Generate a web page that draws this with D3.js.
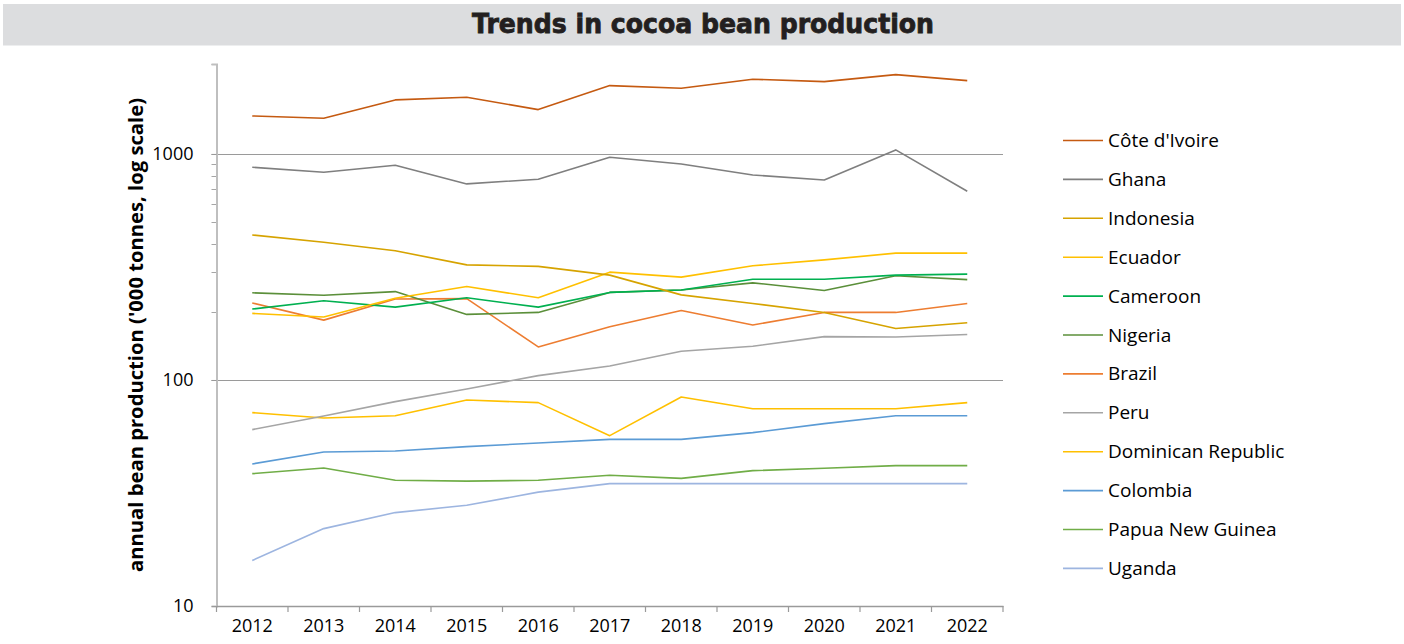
<!DOCTYPE html>
<html>
<head>
<meta charset="utf-8">
<script src="https://cdn.jsdelivr.net/npm/d3@7"></script>
<style>
  body { margin: 0; background: #fff; }
  text { font-family: "Open Sans", sans-serif; fill: #000; }
</style>
</head>
<body>
<div id="chart"></div>
<script>
// years on the x axis
const years = [2012, 2013, 2014, 2015, 2016, 2017, 2018, 2019, 2020, 2021, 2022];

// countries, in legend order
const countries = ["Côte d'Ivoire", "Ghana", "Indonesia", "Ecuador", "Cameroon", "Nigeria",
    "Brazil", "Peru", "Dominican Republic", "Colombia", "Papua New Guinea", "Uganda"];

// production, '000 tonnes
const coteDIvoire = [1473, 1439, 1734, 1782, 1571, 2006, 1953, 2141, 2089, 2244, 2110];
const ghana = [873, 830, 891, 737, 773, 967, 903, 807, 767, 1042, 684];
const indonesia = [438, 407, 373, 323, 318, 291, 238, 218, 199, 169, 179];
const ecuador = [197, 190, 230, 259, 231, 300, 285, 320, 340, 364, 364];
const cameroon = [206, 224, 210, 231, 210, 244, 250, 279, 279, 291, 294];
const nigeria = [243, 237, 246, 195, 199, 244, 250, 269, 249, 289, 278];
const brazil = [219, 184, 228, 229, 140, 172, 203, 175, 199, 199, 218];
const peru = [60.3, 69.3, 80.2, 91.2, 104.5, 115.3, 134, 141, 155.5, 155, 159];
const dominicanRepublic = [71.7, 67.9, 69.5, 81.5, 79.4, 56.7, 84.1, 74.6, 74.6, 74.6, 79.4];
const colombia = [42.5, 48.0, 48.5, 50.7, 52.6, 54.6, 54.6, 58.5, 64.1, 69.5, 69.5];
const papuaNewGuinea = [38.5, 40.8, 36.0, 35.7, 36.0, 37.9, 36.7, 39.7, 40.7, 41.8, 41.8];
const uganda = [15.9, 22.0, 25.9, 27.9, 31.9, 34.8, 34.8, 34.8, 34.8, 34.8, 34.8];

// axis ticks
const majorTicks = [10, 100, 1000];
const minorTicks = [200, 300, 400, 500, 600, 700, 800, 900, 2500];

const colors = ["#C55A11", "#7F7F7F", "#D6A300", "#FFC000", "#00B050", "#5B8F3A",
    "#ED7D31", "#A5A5A5", "#FFC000", "#5B9BD5", "#70AD47", "#9DB5E0"];

const seriesValues = [coteDIvoire, ghana, indonesia, ecuador, cameroon, nigeria,
    brazil, peru, dominicanRepublic, colombia, papuaNewGuinea, uganda];

const series = countries.map((c, i) => ({
    name: c,
    color: colors[i],
    values: years.map((y, j) => ({year: y, value: seriesValues[i][j]}))
}));

const width = 1404, height = 644;
const margin = {top: 64, right: 401, bottom: 38, left: 216.5};

const svg = d3.select("#chart").append("svg")
    .attr("width", width)
    .attr("height", height);

// title bar
svg.append("rect")
    .attr("x", 3).attr("y", 4)
    .attr("width", width - 6).attr("height", 41.5)
    .attr("fill", "#DCDDDF");

svg.append("text")
    .attr("x", 703).attr("y", 33)
    .attr("text-anchor", "middle")
    .attr("textLength", 462)
    .attr("lengthAdjust", "spacingAndGlyphs")
    .style("font-family", "'DejaVu Sans', sans-serif")
    .style("font-weight", 900)
    .style("font-size", "26px")
    .style("fill", "#231F20")
    .style("stroke", "#231F20")
    .style("stroke-width", 0.8)
    .text("Trends in cocoa bean production");

// scales
let x = d3.scaleBand()
    .domain(years)
    .range([margin.left, width - margin.right])
    .padding(0);

let y = d3.scaleLog()
    .domain([10, 2500])
    .range([height - margin.bottom, margin.top]);

let cx = d => x(d) + x.bandwidth() / 2;

// gridlines
svg.append("g")
    .selectAll("line")
    .data([100, 1000])
    .enter().append("line")
    .attr("x1", margin.left - 5)
    .attr("x2", width - margin.right)
    .attr("y1", d => Math.round(y(d)) + 0.5)
    .attr("y2", d => Math.round(y(d)) + 0.5)
    .attr("stroke", "#9A9A9A")
    .attr("stroke-width", 1);

// minor ticks on y axis
svg.append("g")
    .selectAll("line")
    .data(minorTicks)
    .enter().append("line")
    .attr("x1", margin.left - 5)
    .attr("x2", margin.left)
    .attr("y1", d => Math.round(y(d)) + 0.5)
    .attr("y2", d => Math.round(y(d)) + 0.5)
    .attr("stroke", "#A6A6A6");

// y axis
let yAxis = d3.axisLeft(y)
    .tickValues(majorTicks)
    .tickFormat(d3.format("d"))
    .tickSize(5)
    .tickPadding(18);

let yG = svg.append("g")
    .attr("transform", `translate(${margin.left}, 0)`)
    .call(yAxis);
yG.select(".domain").attr("stroke", "#BFBFBF").attr("stroke-width", 2);
yG.selectAll(".tick line").attr("stroke", "#9A9A9A");
yG.selectAll(".tick text")
    .style("font-family", "'Open Sans', sans-serif")
    .style("font-size", "18px")
    .attr("fill", "#000");

// x axis
let xAxis = d3.axisBottom(x)
    .tickSize(0)
    .tickPadding(13);

let xG = svg.append("g")
    .attr("transform", `translate(0, ${height - margin.bottom})`)
    .call(xAxis);
xG.select(".domain").attr("stroke", "#9A9A9A").attr("stroke-width", 1.5);
xG.selectAll(".tick text")
    .style("font-family", "'Open Sans', sans-serif")
    .style("font-size", "18px")
    .attr("fill", "#000");

// category boundary ticks
let edges = years.map(d => x(d)).concat([x.range()[1]]);
svg.append("g")
    .selectAll("line")
    .data(edges)
    .enter().append("line")
    .attr("x1", d => d)
    .attr("x2", d => d)
    .attr("y1", height - margin.bottom)
    .attr("y2", height - margin.bottom + 6)
    .attr("stroke", "#9A9A9A")
    .attr("stroke-width", 1.2);

// y axis title
svg.append("text")
    .attr("transform", `translate(143, ${(margin.top + height - margin.bottom) / 2}) rotate(-90)`)
    .attr("text-anchor", "middle")
    .attr("textLength", 474)
    .attr("lengthAdjust", "spacingAndGlyphs")
    .style("font-family", "'Open Sans', sans-serif")
    .style("font-weight", 700)
    .style("font-size", "20px")
    .text("annual bean production ('000 tonnes, log scale)");

// lines
let line = d3.line()
    .x(d => cx(d.year))
    .y(d => y(d.value));

svg.append("g")
    .selectAll("path")
    .data(series.slice().reverse())
    .enter().append("path")
    .attr("d", d => line(d.values))
    .attr("fill", "none")
    .attr("stroke", d => d.color)
    .attr("stroke-width", 1.6)
    .attr("stroke-linejoin", "round");

// legend
let legend = svg.append("g")
    .attr("transform", "translate(1063, 140.5)");

let items = legend.selectAll("g")
    .data(series)
    .enter().append("g")
    .attr("transform", (d, i) => `translate(0, ${i * 38.9})`);

items.append("line")
    .attr("x1", 0).attr("x2", 40)
    .attr("y1", 0).attr("y2", 0)
    .attr("stroke", d => d.color)
    .attr("stroke-width", 1.6);

items.append("text")
    .attr("x", 45)
    .attr("y", 6.5)
    .style("font-family", "'Open Sans', sans-serif")
    .style("font-size", "19px")
    .text(d => d.name);
</script>
</body>
</html>
